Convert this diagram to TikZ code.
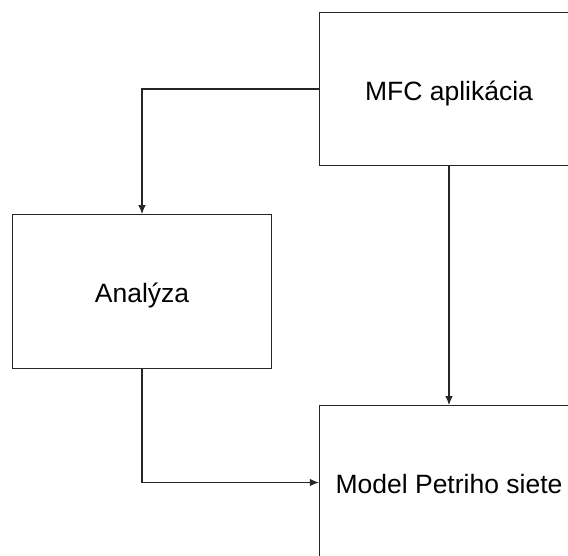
\documentclass[tikz,border=0pt]{standalone}
\usepackage{fontspec}
\setmainfont{Liberation Sans}
\usetikzlibrary{arrows.meta}

\begin{document}
\begin{tikzpicture}[x=1pt, y=1pt,
    block/.style ={rectangle, draw=black!85, line width=1.2pt, inner sep=0pt,
      minimum width=259pt, minimum height=153.5pt,
      text height=23pt, text depth=0pt,
      font=\fontsize{26.5}{30}\selectfont},
    link/.style ={draw=black!85, line width=1.2pt, -{Latex[length=9pt,width=7.5pt]}}]
   \useasboundingbox (0,0) rectangle (568,556);
   \clip (0,0) rectangle (568,556);
   \node[block] (mfc) at (449,467) {MFC aplikácia};
   \node[block] (analyza) at (142,264.5) {Analýza};
   \node[block] (model) at (449,73.5) {Model Petriho siete};
   \draw[link] (mfc.west) -| (analyza.north);
   \draw[link] (mfc.south) -- (model.north);
   \draw[link] (analyza.south) |- (model.west);
 \end{tikzpicture}
\end{document}
